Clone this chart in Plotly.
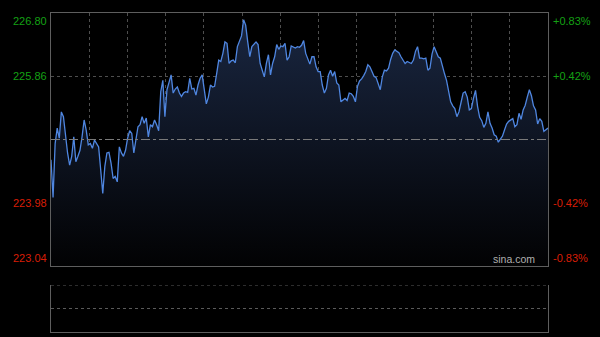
import plotly.graph_objects as go

# ---- data (1-minute prices, 241 points) ----
prices = [
    224.62, 224.06, 224.86, 225.09, 224.94, 225.33, 225.26, 224.94, 224.72, 224.54,
    224.67, 224.96, 224.59, 224.67, 224.76, 224.96, 225.21, 225.06, 224.84, 224.86,
    224.79, 224.91, 224.86, 224.81, 224.47, 224.12, 224.52, 224.72, 224.73, 224.57,
    224.34, 224.37, 224.29, 224.81, 224.72, 224.67, 224.76, 224.94, 225.05, 225.01,
    224.72, 224.94, 225.11, 225.14, 225.26, 225.16, 225.24, 224.96,
    225.14, 225.11, 225.21, 225.14, 225.05, 225.63, 225.80, 225.26, 225.66, 225.77,
    225.88, 225.61, 225.67, 225.70, 225.61, 225.56, 225.61, 225.63, 225.62, 225.83,
    225.67, 225.68, 225.58, 225.73, 225.83, 225.88, 225.66, 225.45, 225.55, 225.73,
    225.70, 225.71, 225.90, 226.10, 226.08, 226.20, 226.37, 226.35, 226.05, 226.09,
    226.10, 226.06, 226.30, 226.37, 226.46, 226.70, 226.62, 226.37, 226.15,
    226.30, 226.34, 226.37, 226.33, 226.05, 225.95, 225.85, 226.05, 226.18, 225.88,
    226.05, 226.15, 226.33, 226.26, 226.31, 226.30, 226.35, 226.10, 226.15, 226.31,
    226.30, 226.28, 226.30, 226.29, 226.32, 226.39, 226.20, 226.11, 226.04, 226.15,
    226.15, 226.00, 225.93, 225.93, 225.73, 225.61, 225.68, 225.88, 225.95, 225.86,
    225.93, 225.76, 225.73, 225.48, 225.51, 225.53, 225.50, 225.61,
    225.60, 225.56, 225.48, 225.71, 225.79, 225.82, 225.87, 225.93, 226.03, 226.00,
    225.93, 225.86, 225.84, 225.75, 225.66, 225.85, 225.95, 225.94, 225.98, 226.11,
    226.20, 226.25, 226.23, 226.21, 226.15, 226.10, 226.05, 226.08, 226.06, 226.05,
    226.10, 226.23, 226.30, 226.13, 226.13, 226.12, 226.13, 225.95, 225.98, 226.19,
    226.30, 226.23, 226.15, 226.13, 226.00, 225.90, 225.80, 225.66,
    225.48, 225.42, 225.38, 225.26, 225.33, 225.47, 225.61, 225.63, 225.55, 225.36,
    225.38, 225.53, 225.65, 225.41, 225.25, 225.20, 225.10, 225.16, 225.33, 225.16,
    225.09, 224.99, 224.97, 224.88, 224.92, 224.97, 225.06, 225.15, 225.19, 225.21,
    225.23, 225.11, 225.14, 225.31, 225.22, 225.36, 225.43, 225.55, 225.66, 225.57,
    225.42, 225.36, 225.15, 225.23, 225.19, 225.04, 225.06, 225.09,
]
minutes = list(range(len(prices)))

prev_close = 224.92
price_ticks = [226.80, 225.86, 223.98, 223.04]
price_labels = ["226.80", "225.86", "223.98", "223.04"]
pct_labels = ["+0.83%", "+0.42%", "-0.42%", "-0.83%"]
y_min, y_max = 223.04, 226.80

GREEN = "#14a014"
RED = "#d81e06"
GRID = "#4e4e4e"
FRAME = "#5e5e5e"
FONT = "Liberation Sans, Arial, sans-serif"

fig = go.Figure()

fig.add_trace(go.Scatter(
    x=minutes, y=prices, mode="lines",
    line=dict(color="#4f86e0", width=1.3),
    fill="tozeroy",
    fillgradient=dict(type="vertical", start=y_min, stop=y_max,
                      colorscale=[[0, "#020203"], [1, "#1a2742"]]),
    hoverinfo="skip", showlegend=False,
    xaxis="x", yaxis="y",
))

# empty lower (volume) panel
fig.add_trace(go.Scatter(x=[], y=[], xaxis="x2", yaxis="y2", showlegend=False))

n_div = 13
xmax = len(prices) - 1
vgrid = [xmax * i / n_div for i in range(1, n_div)]

fig.update_layout(
    width=600, height=337,
    margin=dict(l=51, r=52, t=13, b=5),
    paper_bgcolor="#000000", plot_bgcolor="#000000",
    font=dict(family=FONT, size=10, color="#aaaaaa"),
    xaxis=dict(domain=[0, 1], range=[0, xmax], tickvals=vgrid, showticklabels=False,
               showgrid=True, gridcolor=GRID, griddash="dot", gridwidth=1,
               showline=True, mirror=True, linecolor=FRAME, linewidth=1,
               zeroline=False, ticks="", anchor="y"),
    yaxis=dict(domain=[0.2069, 1], range=[y_min, y_max],
               tickvals=[225.86, 223.98], showticklabels=False,
               showgrid=True, gridcolor=GRID, griddash="dot", gridwidth=1,
               showline=True, mirror=True, linecolor=FRAME, linewidth=1,
               zeroline=False, ticks="", anchor="x"),
    xaxis2=dict(domain=[0, 1], range=[0, xmax], showticklabels=False, showgrid=False,
                showline=True, linecolor=FRAME, linewidth=1, zeroline=False,
                ticks="", anchor="y2"),
    yaxis2=dict(domain=[0, 0.1473], range=[0, 2], tickvals=[1], showticklabels=False,
                showgrid=True, gridcolor="#5a5a5a", griddash="dot", gridwidth=1,
                showline=True, mirror=True, linecolor=FRAME, linewidth=1,
                zeroline=False, ticks="", anchor="x2"),
    showlegend=False,
)

# previous-close reference line
fig.add_shape(type="line", xref="x", yref="y", x0=0, x1=xmax, y0=prev_close, y1=prev_close,
              line=dict(color="#7a7a7a", width=1, dash="dashdot"))
# top edge of the lower panel (dotted)
fig.add_shape(type="line", xref="x2", yref="y2", x0=0, x1=xmax, y0=2, y1=2,
              line=dict(color="#5a5a5a", width=1, dash="dot"))

anchors = ["top", "middle", "middle", "bottom"]
colors = [GREEN, GREEN, RED, RED]
for v, lab, pl, anc, col in zip(price_ticks, price_labels, pct_labels, anchors, colors):
    fig.add_annotation(x=0, xref="paper", y=v, yref="y", text=lab, showarrow=False,
                       xanchor="right", yanchor=anc, xshift=-2,
                       font=dict(family=FONT, size=11, color=col))
    fig.add_annotation(x=1, xref="paper", y=v, yref="y", text=pl, showarrow=False,
                       xanchor="left", yanchor=anc, xshift=3,
                       font=dict(family=FONT, size=11, color=col))

fig.add_annotation(x=1, xref="paper", y=y_min, yref="y", text="sina.com", showarrow=False,
                   xanchor="right", yanchor="bottom", xshift=-11, yshift=-1,
                   font=dict(family=FONT, size=10.5, color="#b0b0b0"))

fig.write_html("out.html")
